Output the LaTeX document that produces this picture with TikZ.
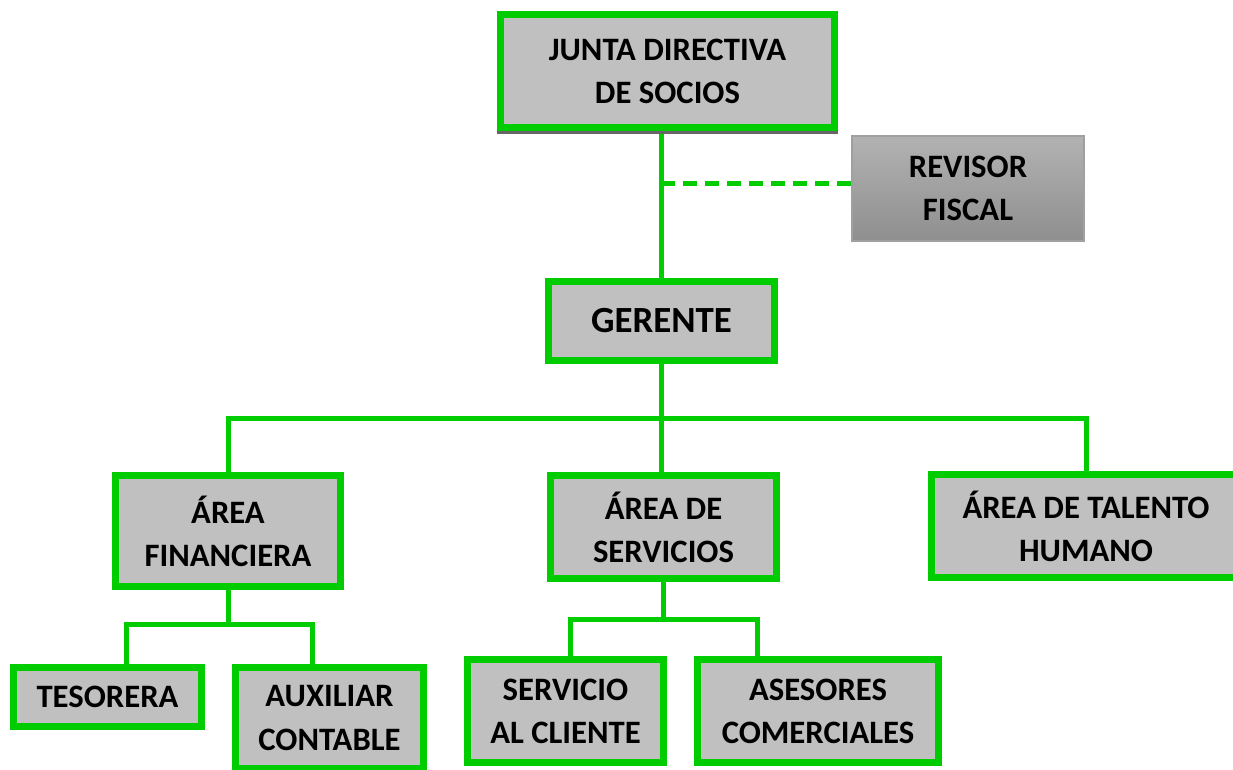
\documentclass[tikz,border=0pt]{standalone}
\usepackage{fontspec}
\setmainfont{Carlito}
\usetikzlibrary{calc}
\definecolor{verde}{HTML}{00CC00}
\definecolor{gris}{HTML}{C0C0C0}
\definecolor{grisA}{HTML}{B2B2B2}
\definecolor{grisB}{HTML}{8F8F8F}
\def\px{0.02cm}
\tikzset{
  cargo/.style={draw=verde,line width=7*\px,fill=gris,align=center,inner sep=0pt,
    font=\fontsize{18.6}{24.6}\selectfont\bfseries},
  linea/.style={draw=verde,line width=5*\px},
}
\begin{document}
\begin{tikzpicture}[x=\px,y=-\px]
\useasboundingbox (0,0) rectangle (1233,769);
% cajas
\foreach \nm/\cx/\cy/\bw/\bh/\txt in {
  junta/667.5/71/334/113/{JUNTA DIRECTIVA\\DE SOCIOS},
  financiera/228/531/225/111/{ÁREA\\FINANCIERA},
  servicios/663.5/527/226/103/{ÁREA DE\\SERVICIOS},
  talento/1086/526/309/103/{ÁREA DE TALENTO\\HUMANO},
  tesorera/107.5/697/188/59/{TESORERA},
  auxiliar/329.5/718/188/101/{AUXILIAR\\CONTABLE},
  cliente/565.5/711/196/103/{SERVICIO\\AL CLIENTE},
  asesores/818/711/241/103/{ASESORES\\COMERCIALES}}{
  \node[cargo,minimum width=\bw*\px,minimum height=\bh*\px](\nm) at (\cx,\cy){\txt};
}
\node[cargo,minimum width=226*\px,minimum height=79*\px,font=\fontsize{21}{25}\selectfont\bfseries](gerente) at (661.5,321){GERENTE};
\node[draw=grisA!90!black,line width=1.5*\px,top color=grisA,bottom color=grisB,align=center,inner sep=0pt,
  minimum width=232*\px,minimum height=105*\px,font=\fontsize{18.6}{24.6}\selectfont\bfseries](revisor) at (968,188.5){REVISOR\\FISCAL};
% sombra
\fill[black!60] (junta.south west) rectangle ($(junta.south east)+(0,3)$);
% conexiones
\coordinate (tap) at (661,183);
\coordinate (bus) at (661,418);
\coordinate (fbus) at (228,624);
\coordinate (tesL) at (126,624);
\coordinate (auxL) at (312,624);
\coordinate (sbus) at (663,619);
\coordinate (cliL) at (570,619);
\coordinate (aseL) at (757,619);
\draw[linea] (tap |- junta.south)++(0,3) -- (tap |- gerente.north);
\draw[linea,dash pattern=on 14*\px off 8*\px] (tap) -- (tap -| revisor.west);
\draw[linea] (bus |- gerente.south) -- (bus);
\draw[linea] (financiera.north) |- (bus) -| (talento.north);
\draw[linea] (bus) -- (bus |- servicios.north);
\draw[linea] (financiera.south) -- (fbus);
\draw[linea] (tesL |- tesorera.north) -- (tesL) -- (auxL) -- (auxL |- auxiliar.north);
\draw[linea] (sbus |- servicios.south) -- (sbus);
\draw[linea] (cliL |- cliente.north) -- (cliL) -- (aseL) -- (aseL |- asesores.north);
\end{tikzpicture}
\end{document}
